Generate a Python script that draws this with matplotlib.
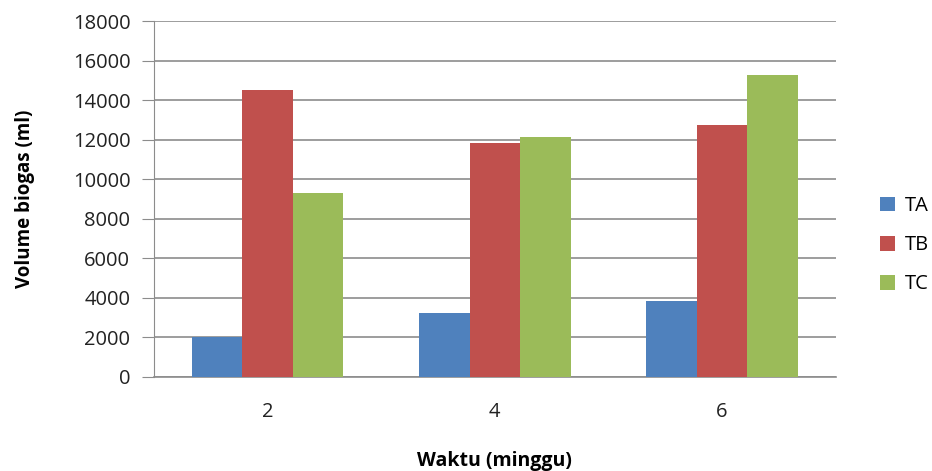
import matplotlib.pyplot as plt
import numpy as np

# data
weeks = ["2", "4", "6"]
series_names = ["TA", "TB", "TC"]
ta = [2000, 3210, 3850]
tb = [14540, 11850, 12770]
tc = [9290, 12130, 15270]
colors = ["#4F81BD", "#C0504D", "#9BBB59"]

plt.rcParams["font.family"] = ["Open Sans", "DejaVu Sans"]

fig = plt.figure(figsize=(9.32, 4.71), dpi=100)
ax = fig.add_axes([0.1652, 0.2002, 0.7315, 0.7546])

x = np.arange(len(weeks))
width = 0.222
for i, (vals, name) in enumerate(zip([ta, tb, tc], series_names)):
    ax.bar(x + (i - 1) * width, vals, width, color=colors[i], label=name,
           zorder=3)

ax.set_xlim(-0.5, len(weeks) - 0.5)
ax.set_ylim(0, 18000)
ax.set_yticks(np.arange(0, 18001, 2000))
ax.set_xticks(x)
ax.set_xticklabels(weeks)

ax.grid(axis="y", color="#8c8c8c", lw=1.2, zorder=0)
for s in ["top", "right"]:
    ax.spines[s].set_visible(False)
ax.spines["left"].set_color("#8c8c8c")
ax.spines["bottom"].set_color("#8c8c8c")
ax.spines["bottom"].set_linewidth(1.2)

ax.tick_params(axis="y", length=9, color="#8c8c8c", labelsize=14.5,
               labelcolor="#222222", pad=8)
ax.tick_params(axis="x", length=0, labelsize=14.5, labelcolor="#222222",
               pad=18)

ax.set_ylabel("Volume biogas (ml)", fontsize=13.5, fontweight="bold",
              labelpad=27)
ax.set_xlabel("Waktu (minggu)", fontsize=14, fontweight="bold", labelpad=21)

ax.legend(loc="center left", bbox_to_anchor=(1.038, 0.37), frameon=False,
          fontsize=14.5, handlelength=0.75, handleheight=0.75,
          labelspacing=0.95, handletextpad=0.5)

fig.savefig("out.png", dpi=100)
